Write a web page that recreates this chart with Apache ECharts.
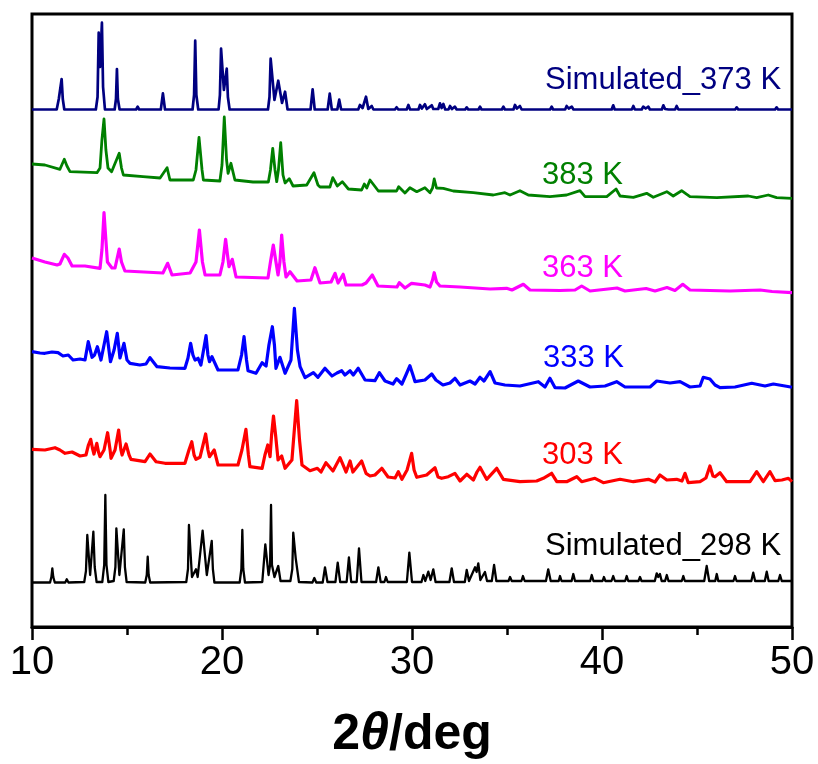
<!DOCTYPE html>
<html>
<head>
<meta charset="utf-8">
<script src="https://cdn.jsdelivr.net/npm/echarts@6/dist/echarts.min.js"></script>
<style>
  html, body { margin: 0; padding: 0; background: #fff; }
  #chart { width: 818px; height: 764px; }
</style>
</head>
<body>
<div id="chart"></div>
<script>
// stacked PXRD patterns: [2theta, offset intensity (a.u.)]
const sim298 = [
  [10,44.5],[10.95,44.5],[11.02,50],[11.07,58.7],[11.12,50],[11.2,44.5],[11.75,44.5],[11.83,47.7],[11.92,44.5],
  [12.75,45],[12.84,56],[12.91,92],[13.06,52],[13.23,95.3],[13.3,60],[13.4,45],
  [13.7,45],[13.8,62],[13.86,132],[13.92,62],[14.02,45],
  [14.3,46],[14.39,60],[14.44,98.7],[14.6,52],[14.83,97.7],[14.89,60],[14.98,45],
  [15.96,44.5],[16.04,52],[16.09,70.3],[16.14,52],[16.22,44.5],
  [18.12,45],[18.21,58],[18.26,102],[18.42,50],[18.63,57.7],[18.72,50],[18.98,96.3],[19.2,52],[19.46,86],[19.52,58],[19.6,44.5],
  [20.93,44.5],[21.02,58],[21.07,97],[21.12,58],[21.21,44.5],
  [22.12,45],[22.28,82.7],[22.45,52],[22.53,62],[22.58,122],[22.63,62],[22.76,50],[22.96,61],[23.08,46],
  [23.6,46],[23.7,58],[23.75,94.3],[23.88,68.7],[23.93,68],[24.05,45],
  [24.76,44.5],[24.86,49],[24.96,44.5],
  [25.3,44.5],[25.42,59.7],[25.55,45],
  [25.97,45],[26.09,64.3],[26.22,45],
  [26.56,45],[26.68,69.7],[26.8,45],
  [27.09,45],[27.21,78.7],[27.34,45],
  [28.11,45],[28.23,59.7],[28.35,45],
  [28.55,45],[28.63,50],[28.72,45],
  [29.73,45],[29.86,74.3],[30,45],
  [30.5,45],[30.6,52],[30.7,46],[30.86,55.3],[30.98,47],[31.12,57.7],[31.24,45],
  [31.97,45],[32.09,58.7],[32.21,45],
  [32.78,45],[32.88,57],[33,46],[33.32,59.7],[33.4,55],[33.49,63.7],[33.6,47],[33.84,55],[33.95,46],
  [34.2,46],[34.32,62],[34.44,46],
  [35.08,46],[35.16,50],[35.25,46],[35.76,46],[35.84,51],[35.93,46],
  [37.05,46],[37.17,57.7],[37.3,46],[37.72,46],[37.79,51],[37.87,46],
  [38.4,46],[38.49,53],[38.58,46],[39.38,46],[39.46,52],[39.55,46],
  [40.03,46],[40.1,50],[40.18,46],[40.5,46],[40.59,51],[40.68,46],
  [41.22,46],[41.3,51],[41.38,46],[41.92,46],[42,50],[42.08,46],
  [42.78,46],[42.88,53.7],[42.96,50],[43.05,53],[43.14,46],[43.32,46],[43.41,52],[43.5,46],
  [44.2,46],[44.28,51],[44.36,46],
  [45.38,46],[45.51,61],[45.64,46],
  [45.96,46],[46.04,53],[46.12,46],
  [46.92,46],[47,51],[47.08,46],
  [47.86,46],[47.96,54.3],[48.06,46],
  [48.57,46],[48.67,55.3],[48.77,46],
  [49.28,46],[49.37,52],[49.46,46],[50,46]
];

const k303 = [
  [10,177.7],[10.68,177],[11.21,179.3],[11.47,177],[11.74,173.7],[12.11,175],[12.53,171],[12.84,172],
  [12.97,182],[13.09,187.7],[13.18,179],[13.26,173],[13.41,183.7],[13.5,175],[13.58,170.3],
  [13.79,177],[13.98,194.3],[14.11,177],[14.16,168.7],[14.37,177],[14.56,197],[14.68,177],[14.74,172],
  [14.95,183],[15.11,172],[15.21,167.7],[15.95,165.3],[16.21,173],[16.53,165.3],[17,163.7],[18.05,163.7],
  [18.26,177],[18.41,185.3],[18.53,172],[18.63,167.7],[18.84,169.7],[19,182],[19.14,193],[19.26,177],
  [19.34,170.3],[19.59,177],[19.79,162],[20.84,162],[21.05,177],[21.26,197.7],[21.39,172],[21.47,160.3],
  [22.11,158.7],[22.26,172],[22.41,182],[22.53,170.3],[22.61,192],[22.71,211],[22.82,192],[22.95,167],
  [23.14,171],[23.32,158.7],[23.68,167],[23.93,226.3],[24.08,187],[24.21,162],[24.63,156.3],
  [25.02,158.7],[25.21,155],[25.47,164.3],[25.84,156],[26.21,169.3],[26.53,155],[26.74,166],[26.89,155],
  [27.35,166],[27.58,153.7],[27.79,151],[28.05,152],[28.41,158.7],[28.74,150],[29.11,149],[29.28,155.3],
  [29.47,147.7],[29.74,157],[29.98,173.7],[30.11,157],[30.25,149.7],[30.77,152],[31.21,159.3],[31.37,150],
  [31.56,148.7],[31.91,150.3],[32.26,153.7],[32.53,146],[32.88,152.7],[33.23,147],[33.42,155],[33.58,159.7],
  [33.93,147.7],[34.46,158.7],[34.81,147.7],[35.68,145.3],[36.56,146],[36.91,148.7],[37.35,153.7],
  [37.62,145.3],[38.14,145.3],[38.67,150.3],[38.93,145.3],[39.63,148.7],[40.07,144.3],[40.95,147.7],
  [41.65,145.3],[42.44,147.7],[42.79,145],[43.05,152],[43.41,147],[43.93,147.7],[44.21,146],[44.37,153.7],
  [44.54,144.3],[45.16,145.3],[45.47,149],[45.68,161],[45.84,151],[45.95,150.3],[46.21,154.3],[46.56,145.3],
  [47.79,145.3],[48.14,155.3],[48.49,145.3],[48.84,155.3],[49.11,146.3],[49.47,147],[49.81,148.7],[50,145.3]
];

const k333 = [
  [10,275.3],[10.42,274],[10.68,273.7],[11.05,275],[11.37,274.3],[11.63,271],[11.91,272],[12.16,267],
  [12.53,268],[12.79,267],[12.96,285.3],[13.16,269.7],[13.29,272],[13.44,280.3],[13.63,267],[13.79,282],
  [13.93,295.3],[14.05,277],[14.13,265.3],[14.32,277],[14.49,293.7],[14.63,269],[14.84,283.7],[15,267],
  [15.16,263.7],[15.68,262],[16,263],[16.21,269.3],[16.58,260.3],[17.26,259],[18.05,258.7],[18.21,269],
  [18.35,283.7],[18.47,272],[18.58,267],[18.74,268.7],[18.89,262],[19.03,277],[19.16,291.3],[19.26,272],
  [19.34,265.3],[19.47,270.3],[19.79,257],[20.84,257],[21.03,272],[21.16,290.3],[21.29,267],[21.37,256.3],
  [21.79,253.7],[22.11,264.3],[22.32,261],[22.47,282],[22.65,300.3],[22.76,282],[22.84,258.7],[23.05,269.7],
  [23.32,253.7],[23.63,267],[23.81,318.7],[23.97,277],[24.11,260.3],[24.37,249.3],[24.81,254.3],[25.05,249.7],
  [25.42,258.7],[25.79,251],[26.05,254],[26.3,256.3],[26.47,252],[26.74,256.3],[26.91,252],[27.17,258.7],
  [27.53,247],[28.05,246.3],[28.28,254.3],[28.58,246],[29,243],[29.19,248.3],[29.47,243],[29.68,252],
  [29.89,261.3],[30.05,252],[30.16,245.3],[30.68,247],[31.04,253],[31.26,247],[31.63,242],[32,244],
  [32.26,248.7],[32.53,242],[33.05,246],[33.32,243],[33.58,249.7],[33.79,246],[34.11,255.3],[34.37,244],
  [34.89,242],[35.68,241],[36.65,245.3],[37,240],[37.26,248.7],[37.53,239.3],[38.05,239],[38.75,246],
  [39.37,240],[40.16,241],[40.77,245.3],[41.21,240],[42.53,240],[42.88,246],[43.58,244],[44.11,245.3],
  [44.63,240],[45.16,241],[45.33,249.7],[45.68,248],[45.95,242],[46.21,239.3],[47,240],[47.88,243.7],
  [48.58,241],[49.02,243],[49.63,241],[50,239.7]
];

const k363 = [
  [10,369],[10.68,365],[11.32,362],[11.47,363],[11.7,372.7],[11.89,369],[12.11,361],[12.79,361],
  [13.58,358.7],[13.68,377],[13.74,397],[13.79,414.3],[13.87,392],[13.97,365],[14.21,359],[14.37,359],
  [14.59,378],[14.71,365],[14.89,356],[16.89,354],[17.14,363.7],[17.37,352],[18.32,354],[18.63,365],
  [18.81,397],[18.97,365],[19.11,352],[19.89,352],[20.05,365],[20.19,387.7],[20.29,372],[20.37,360.3],
  [20.54,367.7],[20.74,350],[22.42,349],[22.55,365],[22.7,382],[22.84,365],[22.95,352],[23.05,365],
  [23.14,392],[23.26,365],[23.37,350],[23.58,355.3],[23.95,346],[24.68,347],[24.89,359.3],[25.16,344],
  [25.74,345],[25.95,353.7],[26.11,344],[26.38,352.7],[26.53,342],[27.37,342],[27.58,344],[27.91,352],
  [28.21,341],[29.21,340],[29.33,344.3],[29.63,339],[29.98,343.7],[30.68,342],[30.95,340],[31.08,347],
  [31.17,354.3],[31.29,345],[31.47,341],[32.53,340],[33.32,339],[34.11,338],[34.98,338.7],[35.26,337],
  [35.86,342.7],[36.21,337],[37.79,336.5],[38.58,337],[38.93,341],[39.37,336],[40.79,339],[41.21,336],
  [42.32,338.5],[42.79,336],[43.42,339.5],[43.84,336.5],[44.25,342.7],[44.63,337],[46.74,336],[48.32,337],
  [48.95,335.5],[50,334.3]
];

const k383 = [
  [10,463],[10.68,462],[11.47,457.7],[11.7,467.7],[11.84,461],[12,455.3],[13.42,454.3],[13.58,459],
  [13.68,487],[13.79,508],[13.89,477],[14,459],[14.19,455.3],[14.59,473.7],[14.71,459],[14.81,452],
  [15.84,450.3],[16.74,449],[17.11,459.3],[17.26,447],[18.49,447],[18.63,457],[18.79,489.7],[18.95,457],
  [19.02,447],[19.89,446],[20,462],[20.12,510],[20.24,467],[20.32,453.7],[20.47,463.7],[20.68,447],
  [21.63,445],[22.44,445],[22.55,457],[22.67,478.7],[22.79,457],[22.88,445.3],[22.97,457],[23.09,484.3],
  [23.21,452],[23.32,444],[23.54,448.3],[23.74,441],[24.46,442],[24.84,454.3],[25.05,442],[25.16,440],
  [25.68,440],[25.83,449.3],[26.07,441],[26.33,445.3],[26.65,438],[27.35,437],[27.49,443],[27.62,439],
  [27.79,447],[28.23,436],[29.19,436],[29.3,440.3],[29.63,434],[29.89,439.3],[30.25,435.3],[30.68,439.3],
  [30.95,434.3],[31.08,439],[31.17,448],[31.29,439],[31.38,437],[31.65,438.7],[32.17,436],[33.23,434.3],
  [34.28,432],[34.89,434.3],[35.16,432],[35.68,436.3],[36.12,432],[37.26,430.3],[38.14,432],[38.84,436.3],
  [39.11,430.3],[40.25,430.3],[40.74,438],[40.95,431],[41.65,429.7],[42.35,433.7],[42.7,429.7],[43.41,435.3],
  [43.75,431],[44.19,436.3],[44.63,430.3],[46.04,429.3],[47.7,431],[48.14,429.3],[48.75,432],[49.19,429.3],
  [50,428.7]
];

const sim373 = [
  [10,517.5],[11.3,517.5],[11.41,528],[11.48,530],[11.56,548],[11.62,528],[11.7,517.5],
  [13.36,517.5],[13.45,530],[13.51,594.3],[13.58,560],[13.68,604.3],[13.74,540],[13.84,517.5],
  [14.35,517.5],[14.42,528],[14.47,558],[14.52,528],[14.61,517.5],
  [15.48,517.5],[15.56,520.3],[15.64,517.5],
  [16.78,517.5],[16.89,533.7],[17.0,517.5],
  [17.6,517.5],[17.67,519],[17.74,517.5],
  [18.45,517.5],[18.53,532],[18.59,586.3],[18.65,532],[18.75,517.5],
  [19.82,517.5],[19.89,532],[19.95,578.3],[20.1,537],[20.25,558.3],[20.31,530],[20.4,517.5],
  [21.06,517.5],[21.14,519],[21.22,517.5],
  [22.42,517.5],[22.5,530],[22.56,568.3],[22.76,527],[22.96,546.3],[23.16,524],[23.32,535.3],[23.45,517.5],
  [24.06,517.5],[24.14,519.5],[24.22,517.5],
  [24.66,517.5],[24.77,537.7],[24.88,517.5],
  [25.56,517.5],[25.67,533.3],[25.78,517.5],
  [26.07,517.5],[26.17,527.3],[26.27,517.5],
  [27.17,517.5],[27.26,522],[27.4,519],[27.58,530.3],[27.7,518],[27.88,521],[27.97,517.5],
  [29.1,517.5],[29.19,519.7],[29.28,517.5],
  [29.72,517.5],[29.81,522],[29.9,517.5],
  [30.34,517.5],[30.42,522],[30.52,518.5],[30.68,522.7],[30.78,518],[31.04,521.7],[31.12,518],
  [31.38,518],[31.47,523.7],[31.56,519],[31.65,523],[31.75,517.5],
  [31.92,517.5],[32,521],[32.1,518],[32.26,520.3],[32.35,517.5],
  [32.8,517.5],[32.88,519.7],[32.96,517.5],[33.5,517.5],[33.58,520.3],[33.66,517.5],
  [34.73,517.5],[34.81,520.3],[34.89,517.5],[35.34,517.5],[35.42,522],[35.52,518.5],[35.68,521],[35.77,517.5],
  [37.27,517.5],[37.35,520.3],[37.43,517.5],[38.06,517.5],[38.14,521],[38.25,518.5],[38.41,520.3],[38.5,517.5],
  [40.51,517.5],[40.59,521.7],[40.67,517.5],[41.57,517.5],[41.65,521],[41.73,517.5],
  [42.09,517.5],[42.17,520.3],[42.3,518.5],[42.44,520.3],[42.52,517.5],
  [43.15,517.5],[43.23,521.7],[43.32,518],[43.5,517.5],[43.85,517.5],[43.93,521],[44.02,517.5],
  [47.01,517.5],[47.09,519.7],[47.17,517.5],[49.11,517.5],[49.19,519.7],[49.27,517.5],[50,517.5]
];

const traceNames = ["Simulated_298 K", "303 K", "333 K", "363 K", "383 K", "Simulated_373 K"];
const traceData = [sim298, k303, k333, k363, k383, sim373];
const traceColors = ["#000000", "#ff0000", "#0000ff", "#ff00ff", "#008000", "#000080"];
const traceWidths = [2.3, 3.2, 3.2, 3.2, 2.8, 2.7];

const font = "Liberation Sans, Arial, sans-serif";

// label spots (px) beside each trace
const labelSpots = [[545, 549], [542, 458], [543, 361], [542, 271], [542, 178], [545, 83]];

const options = {
  animation: false,
  backgroundColor: "#fff",
  grid: {
    left: 32,
    right: 26,
    top: 14,
    bottom: 137,
    show: true,
    borderColor: "#000",
    borderWidth: 3,
    outerBoundsMode: "none",
  },
  xAxis: {
    type: "value",
    min: 10,
    max: 50,
    interval: 10,
    axisLine: { lineStyle: { color: "#000", width: 3 } },
    axisTick: { inside: false, length: 13, lineStyle: { color: "#000", width: 2.5 } },
    minorTick: { show: true, splitNumber: 2, length: 8, lineStyle: { color: "#000", width: 2.5 } },
    splitLine: { show: false },
    axisLabel: { color: "#000", fontSize: 40, fontFamily: font, margin: 16 },
    name: "{n|2}{t|θ}{n|/deg}",
    nameLocation: "middle",
    nameGap: 82,
    nameTextStyle: {
      rich: {
        n: { fontSize: 50, fontWeight: "bold", fontFamily: font, color: "#000" },
        t: { fontSize: 52, fontWeight: "bold", fontStyle: "italic", fontFamily: font, color: "#000" },
      },
    },
  },
  yAxis: {
    type: "value",
    min: 0,
    max: 613,
    show: false,
  },
  series: traceData.map(function (d, i) {
    return {
      name: traceNames[i],
      type: "line",
      data: d,
      showSymbol: false,
      symbol: "none",
      lineStyle: { color: traceColors[i], width: traceWidths[i], join: "round" },
      emphasis: { disabled: true },
    };
  }),
  graphic: traceNames.map(function (t, i) {
    return {
      type: "text",
      left: labelSpots[i][0],
      top: labelSpots[i][1] - 18,
      style: {
        text: t,
        fill: traceColors[i],
        font: "31px " + font,
      },
    };
  }),
};

document.addEventListener("DOMContentLoaded", function () {
  const chart = echarts.init(document.getElementById("chart"));
  chart.setOption(options);
});
</script>
</body>
</html>
